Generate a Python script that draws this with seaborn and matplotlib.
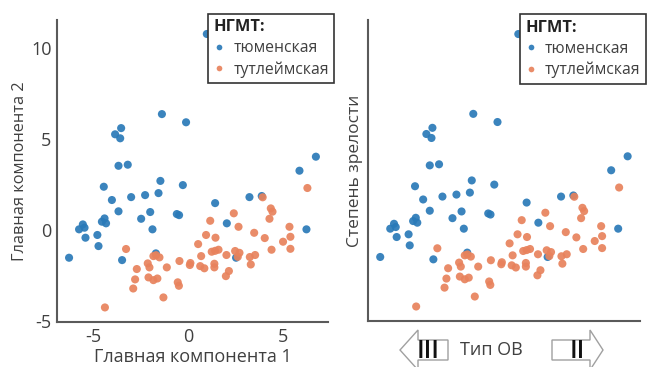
import matplotlib
matplotlib.use("Agg")
import matplotlib.pyplot as plt
import pandas as pd
import seaborn as sns
from matplotlib.patches import Polygon

# НГМТ groups
groups = ["тюменская", "тутлеймская"]

# principal component scores, тюменская
tyumen_x = [0.99, -1.39, -0.11, -3.55, -3.87, -3.60, -3.69, -3.20, 5.90, 6.77,
            -4.47, -1.47, -0.28, -4.04, -3.02, -2.28, -1.57, 1.43, 3.25, 3.90,
            -3.69, -2.01, -0.60, -0.48, -4.43, -2.49, -5.58, -5.49, -5.78, -4.57,
            -4.35, -1.89, 2.05, 6.27, -5.44, -4.81, -4.75, -6.31, -3.50, -1.71, 2.54]
tyumen_y = [10.77, 6.37, 5.92, 5.60, 5.26, 5.04, 3.53, 3.59, 3.26, 4.03,
            2.38, 2.70, 2.47, 1.65, 1.81, 1.92, 2.03, 1.48, 1.81, 1.87,
            1.03, 0.99, 0.88, 0.82, 0.64, 0.62, 0.31, 0.13, 0.04, 0.46,
            0.37, 0.04, 0.37, 0.04, -0.42, -0.27, -0.88, -1.52, -1.65, -1.28, -1.52]

# principal component scores, тутлеймская
tutl_x = [4.38, 4.47, 2.42, 1.17, 4.31, 2.67, 5.37, 0.95, 1.45, 3.50,
          4.06, 5.42, 5.03, 0.53, 4.42, 5.42, 1.25, 1.43, 1.61, 2.49,
          2.72, 2.63, 2.03, 0.69, 3.55, 3.27, 3.32, 0.12, 0.09, 0.64,
          0.86, 1.39, 1.39, 2.16, 2.00, 3.95, 6.32, -4.41, -3.29, -2.72,
          -2.81, -2.91, -2.14, -2.05, -2.10, -1.84, -1.63, -1.84, -1.52, -1.13,
          -1.31, -0.46, -0.55, -0.49, -1.70]
tutl_y = [1.19, 1.01, 0.92, 0.51, 0.62, 0.18, 0.18, -0.27, -0.42, -0.15,
          -0.44, -0.37, -0.64, -0.77, -1.08, -1.03, -1.19, -1.14, -1.08, -1.15,
          -1.25, -1.47, -1.37, -1.43, -1.37, -1.48, -1.89, -1.81, -1.92, -1.98,
          -2.10, -1.85, -2.05, -2.25, -2.53, 1.80, 2.31, -4.25, -1.04, -2.14,
          -2.71, -3.21, -1.83, -2.05, -2.60, -2.75, -2.66, -1.43, -1.50, -2.05,
          -3.70, -1.70, -2.87, -3.06, -1.38]

x_ticks = [-5, 0, 5]
y_ticks = [-5, 0, 5, 10]

sns.set_theme(style="white")
plt.rcParams["font.family"] = ["Open Sans", "DejaVu Sans"]
plt.rcParams["axes.unicode_minus"] = False

df = pd.DataFrame({
    "pc1": tyumen_x + tutl_x,
    "pc2": tyumen_y + tutl_y,
    "НГМТ": [groups[0]] * len(tyumen_x) + [groups[1]] * len(tutl_x),
})

palette = {groups[0]: "#2a7ab8", groups[1]: "#e8825c"}
text_color = "#404040"
spine_color = "#5a5a5a"

fig = plt.figure(figsize=(6.55, 3.67), dpi=100)
ax1 = fig.add_axes([0.087, 0.1226, 0.414, 0.823])
ax2 = fig.add_axes([0.562, 0.1253, 0.415, 0.820])

for ax in (ax1, ax2):
    sns.scatterplot(data=df, x="pc1", y="pc2", hue="НГМТ", palette=palette,
                    s=34, linewidth=0, alpha=0.92, ax=ax)
    ax.set_xlim(-6.95, 7.42)
    ax.set_ylim(-5.05, 11.54)
    sns.despine(ax=ax)
    for side in ("left", "bottom"):
        ax.spines[side].set_color(spine_color)
        ax.spines[side].set_linewidth(1.5)
    leg = ax.legend(title="НГМТ:", loc="upper right", bbox_to_anchor=(1.022, 1.02),
                    frameon=True, fancybox=False, framealpha=1, edgecolor="#333333",
                    fontsize=11.3, title_fontproperties={"weight": "bold", "size": 11.8},
                    alignment="left", markerscale=0.7, handletextpad=0.55,
                    borderpad=0.35, labelspacing=0.32, borderaxespad=0,
                    handlelength=0.7)
    leg.get_frame().set_linewidth(1.2)
    for t in leg.get_texts():
        t.set_color(text_color)
    leg.get_title().set_color("#222222")

# left panel: principal components with ticks
ax1.set_xticks(x_ticks)
ax1.set_yticks(y_ticks)
ax1.tick_params(length=0, labelsize=13, labelcolor=text_color, pad=4)
ax1.set_xlabel("Главная компонента 1", fontsize=13, color=text_color, labelpad=2)
ax1.set_ylabel("Главная компонента 2", fontsize=11.8, color=text_color, labelpad=2)

# right panel: interpretation of the same axes
ax2.set_xticks([])
ax2.set_yticks([])
ax2.set_xlabel("")
ax2.set_ylabel("Степень зрелости", fontsize=12.5, color=text_color, labelpad=4)

W, H = 655.0, 367.0


def fig_pts(pts):
    return [(px / W, 1 - py / H) for px, py in pts]


left_arrow = [(400, 350), (418, 330), (418, 340), (448, 340), (448, 360), (418, 360), (418, 370)]
right_arrow = [(603, 350), (590, 330), (590, 340), (552, 340), (552, 360), (590, 360), (590, 370)]
for shape in (left_arrow, right_arrow):
    fig.add_artist(Polygon(fig_pts(shape), closed=True, transform=fig.transFigure,
                           facecolor="white", edgecolor="#a0a0a0", linewidth=1.0,
                           clip_on=False))

fig.text(428 / W, 1 - 351 / H, "III", ha="center", va="center", fontsize=18,
         fontweight="semibold", color="#111111")
fig.text(577 / W, 1 - 351 / H, "II", ha="center", va="center", fontsize=18,
         fontweight="semibold", color="#111111")
fig.text(491 / W, 1 - 350 / H, "Тип ОВ", ha="center", va="center", fontsize=13,
         color=text_color)

fig.savefig("out.png", dpi=100)
